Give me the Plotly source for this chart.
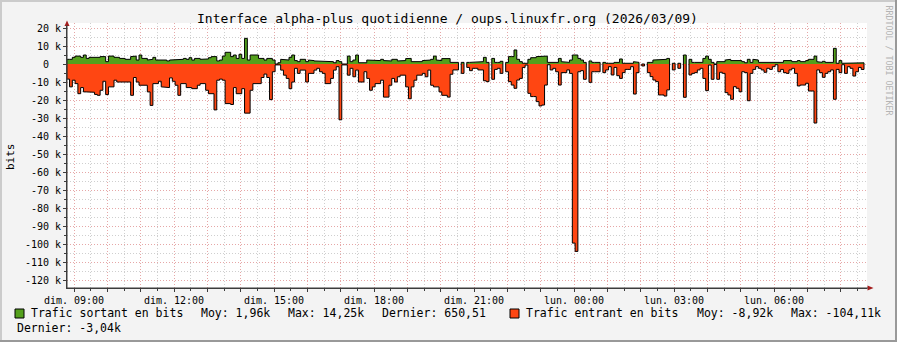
import plotly.graph_objects as go
import pandas as pd

# ---------------- data (k bits, 5-minute steps, None = unknown) ----------------
step_start = "2026-03-08 08:47:00"
step_minutes = 5

trafic_sortant_k = [
    2.6, 2.6, 3.7, 4.4, 4.4, 3.7, 5.0, 3.1, 3.7, 3.5,
    3.7, 3.7, 4.1, 4.1, 1.3, 4.4, 4.4, 3.7, 3.7, 3.1,
    3.1, 2.6, 2.6, 4.1, 4.4, 2.2, 5.0, 3.1, 3.1, 2.2,
    2.6, 3.7, 2.2, 2.2, 2.2, 2.2, 1.7, 2.2, 2.6, 2.6,
    2.6, 2.6, 3.1, 2.6, 3.5, 2.2, 3.1, 3.1, 2.6, 2.6,
    2.8, 3.5, 4.1, 4.1, 1.7, 2.2, 4.4, 6.5, 6.5, 4.1,
    5.0, 3.1, 5.4, 3.1, 14.25, 2.2, 5.0, 5.0, 5.0, 3.1,
    3.1, 2.2, 3.1, 3.1, 2.2, 0.0, 0.7, 2.6, 2.2, 2.2,
    3.7, 5.0, 1.9, 1.3, 2.6, 2.6, 1.3, 2.2, 1.9, 1.7,
    1.7, 1.3, 1.3, 1.3, 1.3, 1.3, 0.7, 1.9, 1.3, 0.0,
    0.0, 4.4, 1.3, 2.2, 5.0, 0.7, 0.7, 0.7, 2.2, 2.2,
    2.2, 1.9, 1.9, 2.6, 1.9, 1.7, 1.7, 2.6, 2.6, 1.7,
    1.9, 1.9, 3.0, 3.1, 1.3, 1.3, 1.3, 1.3, 1.9, 2.2,
    2.2, 2.6, 4.4, 2.2, 1.9, 3.0, 3.0, 3.0, 0.9, 0.9,
    0.9, None, 0.9, None, 0.9, 0.9, 1.3, 0.9, 1.3, 1.3,
    3.7, 0.9, None, 3.1, 0.9, 0.9, 1.5, None, 0.9, 4.1,
    4.1, 7.8, 2.6, 1.3, 0.4, 0.4, 2.6, 3.5, 3.5, 4.1,
    4.1, 4.4, 4.4, 0.9, 0.9, 0.9, 0.9, 3.1, 1.3, 1.3,
    0.9, 2.2, 5.0, 5.0, 3.1, 2.2, 0.9, None, 1.7, 0.9,
    0.9, 0.9, None, 0.9, 0.4, 0.4, 0.4, 0.9, 0.9, 2.8,
    0.4, 0.4, 0.4, 0.4, 1.3, 0.9, None, 0.0, None, 0.9,
    0.9, 2.2, 2.6, 2.6, 2.6, 2.6, 3.1, None, 0.4, None,
    0.4, None, 5.0, None, 2.6, 0.9, 0.9, 0.9, 0.9, 3.1,
    4.4, 2.6, 0.9, 0.0, 1.3, 0.9, 1.3, 2.2, 2.6, 1.9,
    1.9, 1.9, 1.9, 1.3, 0.7, 2.6, 0.9, 2.6, 2.2, 0.9,
    0.9, 0.7, 0.7, 0.7, 0.7, 0.9, 0.9, 0.9, 1.9, 1.9,
    1.9, 1.3, 1.3, 1.9, 1.3, 1.3, 1.9, 2.6, 2.6, 4.4,
    1.3, 0.9, 1.5, 0.9, 0.9, 0.9, 8.7, 0.4, 1.9, 0.4,
    0.4, 0.4, 0.4, 0.4, 0.4, 0.4, 0.65,
]

trafic_entrant_k = [
    -8.4, -12.7, -9.0, -10.9, -16.5, -13.1, -15.5, -15.5, -15.7, -15.7,
    -16.9, -17.4, -14.6, -9.6, -17.0, -12.7, -12.7, -9.0, -10.0, -10.0,
    -10.0, -10.0, -10.0, -17.4, -7.5, -10.0, -11.8, -11.8, -11.8, -15.5,
    -23.0, -10.9, -10.9, -9.6, -12.7, -13.1, -13.1, -7.7, -9.6, -11.8,
    -17.4, -10.9, -10.9, -13.1, -13.1, -13.7, -13.7, -11.8, -10.9, -10.9,
    -14.6, -16.5, -16.5, -25.5, -9.0, -8.4, -9.0, -22.0, -22.0, -22.5,
    -13.1, -16.5, -16.5, -13.7, -27.3, -27.3, -14.6, -10.9, -10.9, -10.9,
    -7.5, -5.6, -7.5, -19.8, -4.3, -0.5, -0.5, -3.4, -6.2, -8.0,
    -13.7, -10.0, -2.4, -5.2, -3.4, -3.4, -10.0, -5.2, -5.2, -3.4,
    -2.4, -4.3, -5.2, -10.9, -10.9, -8.0, -3.4, -1.5, -31.0, -0.5,
    -0.5, -6.2, -2.4, -7.1, -3.4, -10.0, -10.0, -4.3, -8.0, -14.6,
    -12.7, -10.9, -10.9, -9.0, -18.4, -18.4, -11.8, -8.0, -10.0, -7.1,
    -6.2, -6.2, -12.7, -19.3, -12.7, -9.0, -6.2, -6.2, -5.2, -7.1,
    -3.4, -11.8, -12.7, -12.7, -15.5, -17.4, -17.4, -18.4, -5.7, -3.3,
    -3.3, None, -5.2, None, -1.9, -3.7, -2.4, -2.4, -3.3, -3.3,
    -9.3, -9.8, None, -8.5, -3.0, -2.4, -5.2, None, -4.3, -9.8,
    -11.7, -13.5, -8.9, -8.0, -1.9, -0.6, -16.3, -18.1, -18.1, -20.9,
    -23.3, -22.8, -11.7, -0.4, -3.3, -2.4, -4.3, -11.7, -4.8, -4.8,
    -3.3, -5.2, -99.5, -104.11, -4.3, -3.7, -8.5, None, -10.2, -4.3,
    -4.3, -4.3, None, -4.8, -3.3, -1.5, -6.1, -1.9, -6.5, -8.0,
    -4.8, -3.0, -3.0, -1.5, -16.7, -4.8, None, -1.1, None, -4.8,
    -7.0, -8.9, -9.8, -17.2, -17.2, -17.8, -14.4, None, -3.3, None,
    -2.4, None, -18.5, None, -6.1, -5.2, -4.8, -3.3, -2.4, -8.0,
    -14.8, -0.6, -8.5, -0.3, -8.5, -4.6, -5.2, -15.9, -17.2, -19.6,
    -12.6, -13.5, -15.4, -4.3, -4.8, -20.4, -5.2, -3.0, -1.5, -2.4,
    -3.3, -4.6, -2.4, -3.0, -1.5, -0.4, -4.3, -3.0, -4.8, -5.2,
    -3.3, -2.4, -5.2, -12.2, -11.7, -11.7, -10.7, -15.0, -15.0, -32.8,
    -3.3, -4.8, -7.4, -5.2, -4.3, -3.3, -19.6, -3.0, -4.8, -0.4,
    -5.2, -1.5, -2.4, -6.7, -4.3, -1.9, -3.04,
]

x_tick_times = ["2026-03-08 09:00", "2026-03-08 12:00", "2026-03-08 15:00",
                "2026-03-08 18:00", "2026-03-08 21:00", "2026-03-09 00:00",
                "2026-03-09 03:00", "2026-03-09 06:00"]
x_tick_labels = ["dim. 09:00", "dim. 12:00", "dim. 15:00", "dim. 18:00",
                 "dim. 21:00", "lun. 00:00", "lun. 03:00", "lun. 06:00"]

y_tick_values = [20, 10, 0, -10, -20, -30, -40, -50, -60, -70, -80, -90, -100, -110, -120]
y_tick_labels = ["20 k", "10 k", "0\u00a0\u00a0", "-10 k", "-20 k", "-30 k", "-40 k", "-50 k",
                 "-60 k", "-70 k", "-80 k", "-90 k", "-100 k", "-110 k", "-120 k"]

title_text = "Interface alpha-plus quotidienne / oups.linuxfr.org (2026/03/09)"
series_names = ["Trafic sortant en bits", "Trafic entrant en bits"]
series_colors = ["#54a01c", "#ff4612"]
stats_sortant = ["Moy: 1,96k", "Max: 14,25k", "Dernier: 650,51"]
stats_entrant = ["Moy: -8,92k", "Max: -104,11k", "Dernier: -3,04k"]

assert len(trafic_sortant_k) == len(trafic_entrant_k) == 287

# ---------------- geometry ----------------
W, H = 897, 342
L, R, T, B = 67, 867, 23, 288
FONT = "DejaVu Sans Mono"


def px(x):
    return (x - L) / (R - L)


def py(y):
    return (B - y) / (B - T)


start = pd.Timestamp(step_start)
step = pd.Timedelta(minutes=step_minutes)
edges = [(start + i * step).strftime("%Y-%m-%d %H:%M:%S") for i in range(len(trafic_sortant_k) + 1)]


def step_polygon(vals):
    xs, ys = [], []
    n = len(vals)
    i = 0
    while i < n:
        if vals[i] is None:
            i += 1
            continue
        xs.append(edges[i]); ys.append(0)
        j = i
        while j < n and vals[j] is not None:
            xs += [edges[j], edges[j + 1]]
            ys += [vals[j], vals[j]]
            j += 1
        xs.append(edges[j]); ys.append(0)
        xs.append(None); ys.append(None)
        i = j
    return xs, ys


fig = go.Figure()
for vals, col in [(trafic_entrant_k, series_colors[1]), (trafic_sortant_k, series_colors[0])]:
    xs, ys = step_polygon(vals)
    fig.add_trace(go.Scatter(x=xs, y=ys, mode="lines", fill="toself", fillcolor=col,
                             line=dict(color="#000000", width=1), hoverinfo="skip",
                             connectgaps=False))

hours = pd.date_range("2026-03-08 09:00", "2026-03-09 08:00", freq="1h")
hour_vals = [h.strftime("%Y-%m-%d %H:%M") for h in hours]
lab_map = dict(zip(x_tick_times, x_tick_labels))
hour_text = [lab_map.get(h, "") for h in hour_vals]

major_grid = "rgba(245,140,140,0.6)"
minor_grid = "#cfcfcf"
axis_col = "#3c3c3c"

fig.update_layout(
    width=W, height=H,
    margin=dict(l=L, r=W - R, t=T, b=H - B),
    paper_bgcolor="#f3f3f3", plot_bgcolor="#ffffff",
    showlegend=False,
    font=dict(family=FONT, size=10, color="#000000"),
    xaxis=dict(
        type="date", range=["2026-03-08 08:47:24", "2026-03-09 08:47:24"],
        tickmode="array", tickvals=hour_vals, ticktext=hour_text,
        showgrid=True, gridcolor=major_grid, griddash="1px,2px", gridwidth=1,
        ticks="outside", ticklen=3, tickcolor=axis_col,
        showline=True, linecolor=axis_col, linewidth=1, zeroline=False,
        tickfont=dict(family=FONT, size=10, color="#000"),
        minor=dict(tickmode="linear", dtick=1800000, tick0="2026-03-08 08:30:00",
                   showgrid=True, gridcolor=minor_grid, griddash="1px,2px",
                   ticks="outside", ticklen=2, tickcolor=axis_col),
        fixedrange=True,
    ),
    yaxis=dict(
        range=[-(B - 64) / 1.8, (64 - T) / 1.8],
        tickmode="array", tickvals=y_tick_values, ticktext=y_tick_labels,
        showgrid=True, gridcolor=major_grid, griddash="1px,2px", gridwidth=1,
        ticks="outside", ticklen=3, tickcolor=axis_col,
        showline=True, linecolor=axis_col, linewidth=1, zeroline=False,
        tickfont=dict(family=FONT, size=10, color="#000"),
        minor=dict(tickmode="linear", dtick=5, tick0=0,
                   showgrid=True, gridcolor=minor_grid, griddash="1px,2px",
                   ticks="outside", ticklen=2, tickcolor=axis_col),
        fixedrange=True,
    ),
)

shapes = []
# frame (3D border)
shapes.append(dict(type="rect", xref="paper", yref="paper", x0=px(0), x1=px(W), y0=py(0), y1=py(2),
                   fillcolor="#cbcbcb", line=dict(width=0), layer="above"))
shapes.append(dict(type="rect", xref="paper", yref="paper", x0=px(0), x1=px(2), y0=py(0), y1=py(H),
                   fillcolor="#cbcbcb", line=dict(width=0), layer="above"))
shapes.append(dict(type="rect", xref="paper", yref="paper", x0=px(0), x1=px(W), y0=py(H - 2), y1=py(H),
                   fillcolor="#999999", line=dict(width=0), layer="above"))
shapes.append(dict(type="rect", xref="paper", yref="paper", x0=px(W - 2), x1=px(W), y0=py(0), y1=py(H),
                   fillcolor="#999999", line=dict(width=0), layer="above"))
# axis arrows
arrow_col = "#a31c1c"
shapes.append(dict(type="path", xref="paper", yref="paper",
                   path=f"M {px(64.5)},{py(26)} L {px(69.5)},{py(26)} L {px(67)},{py(20.5)} Z",
                   fillcolor=arrow_col, line=dict(width=0), layer="above"))
shapes.append(dict(type="path", xref="paper", yref="paper",
                   path=f"M {px(867.5)},{py(285.5)} L {px(867.5)},{py(290.5)} L {px(873.5)},{py(288)} Z",
                   fillcolor=arrow_col, line=dict(width=0), layer="above"))
shapes.append(dict(type="line", xref="paper", yref="paper", x0=px(67), x1=px(67), y0=py(288), y1=py(25),
                   line=dict(color=axis_col, width=1), layer="above"))
shapes.append(dict(type="line", xref="paper", yref="paper", x0=px(67), x1=px(868), y0=py(288), y1=py(288),
                   line=dict(color=axis_col, width=1), layer="above"))
# legend boxes
for x0, col in [(15, series_colors[0]), (510, series_colors[1])]:
    shapes.append(dict(type="rect", xref="paper", yref="paper", x0=px(x0), x1=px(x0 + 9),
                       y0=py(318), y1=py(309), fillcolor=col,
                       line=dict(color="#000000", width=1), layer="above"))
fig.update_layout(shapes=shapes)

ann = []


def text(x, y, s, size=11.5, color="#000000", anchor="left", angle=0):
    ann.append(dict(x=px(x), y=py(y), xref="paper", yref="paper", text=s, showarrow=False,
                    xanchor=anchor, yanchor="middle", textangle=angle,
                    font=dict(family=FONT, size=size, color=color), borderpad=0))


text(447, 18.5, title_text, size=13, anchor="center")
text(10, 157, "bits", size=11, anchor="center", angle=-90)
text(888.5, 60, "RRDTOOL / TOBI OETIKER", size=8.3, color="#b4b4b4", anchor="center", angle=90)

ly1, ly2 = 312.8, 327.8
text(29.5, ly1, series_names[0])
text(200, ly1, stats_sortant[0])
text(286.5, ly1, stats_sortant[1])
text(381, ly1, stats_sortant[2])
text(524.5, ly1, series_names[1])
text(695.5, ly1, stats_entrant[0])
text(789.5, ly1, stats_entrant[1])
text(15.5, ly2, stats_entrant[2])

fig.update_layout(annotations=ann)

fig.write_html("out.html")
